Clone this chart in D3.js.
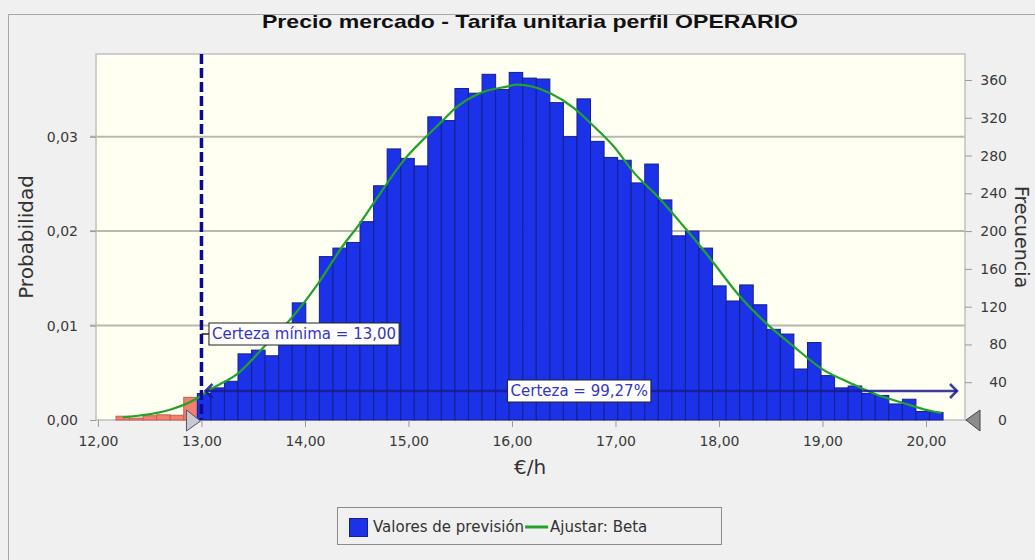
<!DOCTYPE html>
<html>
<head>
<meta charset="utf-8">
<script src="https://cdn.jsdelivr.net/npm/d3@7"></script>
<style>
  body { margin: 0; background: #f0f0f0; }
  svg { display: block; font-family: "DejaVu Sans", sans-serif; }
</style>
</head>
<body>
<div class="chart"></div>
<script>
// histogram: 61 bins of the forecast (10 000 trials)
const binStart = 12.174
const binWidth = 0.131
const frequencies = [
  4, 2, 4.5, 5.5, 5, 24, 28, 34, 41, 70, 74, 68, 88, 124, 98, 173, 182, 188, 210, 248,
  287, 277, 269, 321, 317, 351, 346, 366, 350, 368, 362, 361, 336, 300, 340, 295, 278, 275, 251, 271,
  233, 195, 200, 182, 142, 126, 143, 122, 96, 91, 54, 82, 47, 34, 36, 28, 26, 17, 22, 9, 8
]
const trials = 10000

// fitted beta curve (value, frequency)
const fitX = [12.24, 12.71, 12.96, 13.08, 13.36, 13.61, 13.87, 14.13, 14.37, 14.53, 14.66, 14.97, 15.18, 15.34,
  15.43, 15.69, 15.95, 16.05, 16.37, 16.59, 16.79, 16.98, 17.17, 17.43, 17.62, 17.82, 17.95, 18.17, 18.46,
  18.72, 19.01, 19.27, 19.52, 19.78, 20.07, 20.15]
const fitY = [2.8, 11.3, 23, 32, 50, 78, 108, 145, 185, 208, 229, 277, 301, 318,
  328, 346, 353, 355, 346, 331, 311, 290, 263, 234, 210, 184, 166, 135, 102,
  78, 53, 39, 27, 18, 9, 7.5]

const xTicks = [12, 13, 14, 15, 16, 17, 18, 19, 20]
const probTicks = [0, 0.01, 0.02, 0.03]
const freqTicks = [0, 40, 80, 120, 160, 200, 240, 280, 320, 360]
const certaintyMin = 13.0
const certaintyText = 'Certeza = 99,27%'
const certaintyMinText = 'Certeza mínima = 13,00'

const width = 1035
const height = 560
const plot = { left: 96, right: 965, top: 54, bottom: 420 }

const locale = d3.formatLocale({ decimal: ',', thousands: '.', grouping: [3], currency: ['', '€'] })
const fmt2 = locale.format('.2f')

const x = d3.scaleLinear().domain([11.981, 20.377]).range([plot.left, plot.right])
const yF = d3.scaleLinear().domain([0, 387.5]).range([plot.bottom, plot.top])
const yP = d3.scaleLinear().domain([0, 387.5 / trials]).range([plot.bottom, plot.top])

const svg = d3.select('.chart').append('svg')
  .attr('width', width).attr('height', height)

// outer frame
svg.append('rect')
  .attr('x', 8.5).attr('y', 14.5).attr('width', width).attr('height', height)
  .attr('fill', '#f0f0f0').attr('stroke', '#a8a8a8')

svg.append('text')
  .attr('x', 530).attr('y', 28)
  .attr('text-anchor', 'middle')
  .style('font-family', '"Liberation Sans", Arial, sans-serif')
  .style('font-weight', 'bold').style('font-size', '19px')
  .attr('textLength', 536).attr('lengthAdjust', 'spacingAndGlyphs')
  .attr('fill', '#111')
  .text('Precio mercado - Tarifa unitaria perfil OPERARIO')

svg.append('rect')
  .attr('x', plot.left).attr('y', plot.top)
  .attr('width', plot.right - plot.left).attr('height', plot.bottom - plot.top)
  .attr('fill', '#fffff2')

// gridlines
svg.append('g').selectAll('line')
  .data(probTicks.filter((d) => d > 0))
  .enter().append('line')
  .attr('x1', plot.left - 6).attr('x2', plot.right)
  .attr('y1', (d) => yP(d)).attr('y2', (d) => yP(d))
  .attr('stroke', '#b8b8b0').attr('stroke-width', 2)

svg.append('rect')
  .attr('x', plot.left).attr('y', plot.top)
  .attr('width', plot.right - plot.left).attr('height', plot.bottom - plot.top)
  .attr('fill', 'none').attr('stroke', '#c0c0c0').attr('stroke-width', 1.5)

// bars
const isTail = (i) => binStart + (i + 1) * binWidth <= certaintyMin
svg.append('g').selectAll('rect')
  .data(frequencies)
  .enter().append('rect')
  .attr('x', (d, i) => x(binStart + i * binWidth))
  .attr('width', (d, i) => x(binStart + (i + 1) * binWidth) - x(binStart + i * binWidth))
  .attr('y', (d) => yF(d))
  .attr('height', (d) => yF(0) - yF(d))
  .attr('fill', (d, i) => (isTail(i) ? '#f47f6e' : '#1b32e8'))
  .attr('stroke', (d, i) => (isTail(i) ? '#c0604f' : '#14208c'))
  .attr('stroke-width', 1)

// fitted curve
svg.append('path')
  .datum(fitX.map((v, i) => [v, fitY[i]]))
  .attr('fill', 'none').attr('stroke', '#22a22a').attr('stroke-width', 2.2)
  .attr('d', d3.line().x((d) => x(d[0])).y((d) => yF(d[1])).curve(d3.curveMonotoneX))

// axes
const axisStyle = (g) => {
  g.select('.domain').remove()
  g.selectAll('.tick line').attr('stroke', '#9a9a9a')
  g.selectAll('.tick text').attr('fill', '#3a3a3a')
    .style('font-family', '"DejaVu Sans", sans-serif').style('font-size', '14px')
}

svg.append('g')
  .attr('transform', `translate(0,${plot.bottom})`)
  .call(d3.axisBottom(x).tickValues(xTicks).tickFormat(fmt2).tickSize(7).tickPadding(9))
  .call(axisStyle)

svg.append('g')
  .attr('transform', `translate(${plot.left},0)`)
  .call(d3.axisLeft(yP).tickValues(probTicks).tickFormat(fmt2).tickSize(6).tickPadding(12))
  .call(axisStyle)

svg.append('g')
  .attr('transform', `translate(${plot.right},0)`)
  .call(d3.axisRight(yF).tickValues(freqTicks).tickSize(7))
  .call(axisStyle)
  .selectAll('.tick text').attr('text-anchor', 'end').attr('x', 42)

// axis titles
svg.append('text')
  .attr('transform', `translate(27,${(plot.top + plot.bottom) / 2}) rotate(-90)`)
  .attr('text-anchor', 'middle').attr('dominant-baseline', 'middle')
  .attr('fill', '#333').style('font-size', '20px')
  .text('Probabilidad')

svg.append('text')
  .attr('transform', `translate(1020,${(plot.top + plot.bottom) / 2}) rotate(90)`)
  .attr('text-anchor', 'middle').attr('dominant-baseline', 'middle')
  .attr('fill', '#333').style('font-size', '19px')
  .text('Frecuencia')

svg.append('text')
  .attr('x', 530).attr('y', 474)
  .attr('text-anchor', 'middle')
  .attr('fill', '#333').style('font-size', '20px')
  .text('€/h')

// certainty markers
const xMin = x(certaintyMin)
svg.append('line')
  .attr('x1', xMin).attr('x2', xMin)
  .attr('y1', plot.top).attr('y2', plot.bottom)
  .attr('stroke', '#0a0a96').attr('stroke-width', 3.5)
  .attr('stroke-dasharray', '10,4')

const arrowY = plot.bottom - 29
const arrowEnd = plot.right - 8
const arrows = svg.append('g')
  .attr('stroke', '#1a1a90').attr('stroke-opacity', 0.85)
  .attr('stroke-width', 2.5).attr('fill', 'none')
arrows.append('line')
  .attr('x1', xMin + 4).attr('x2', arrowEnd)
  .attr('y1', arrowY).attr('y2', arrowY)
arrows.append('path')
  .attr('d', `M${arrowEnd - 7},${arrowY - 7}L${arrowEnd},${arrowY}L${arrowEnd - 7},${arrowY + 7}`)
arrows.append('path')
  .attr('d', `M${xMin + 11},${arrowY - 7}L${xMin + 4},${arrowY}L${xMin + 11},${arrowY + 7}`)

function label(cx, cy, text, anchorLeft) {
  const g = svg.append('g')
  const t = g.append('text')
    .attr('y', cy).attr('dominant-baseline', 'central')
    .attr('fill', '#3434c4').style('font-size', '15px')
    .text(text)
  const w = t.node().getComputedTextLength() + 6
  const left = anchorLeft ? cx : cx - w / 2
  t.attr('x', left + 3)
  g.insert('rect', 'text')
    .attr('x', left).attr('y', cy - 11)
    .attr('width', w).attr('height', 22)
    .attr('fill', '#fff').attr('stroke', '#222').attr('stroke-width', 1)
}

svg.append('line')
  .attr('x1', xMin).attr('x2', xMin + 8)
  .attr('y1', 334).attr('y2', 334)
  .attr('stroke', '#222').attr('stroke-width', 1.5)
label(xMin + 7.5, 334, certaintyMinText, true)
label((xMin + arrowEnd) / 2, arrowY, certaintyText, false)

// grabbers
svg.append('path')
  .attr('d', `M${xMin - 15},${plot.bottom - 10}L${xMin - 15},${plot.bottom + 11}L${xMin - 1},${plot.bottom + 1}Z`)
  .attr('fill', '#c8c8d6').attr('stroke', '#555')
svg.append('path')
  .attr('d', `M${plot.right + 15},${plot.bottom - 10}L${plot.right + 15},${plot.bottom + 11}L${plot.right + 1},${plot.bottom}Z`)
  .attr('fill', '#8c8c8c').attr('stroke', '#444')

// legend
const legend = svg.append('g')
legend.append('rect')
  .attr('x', 337.5).attr('y', 507.5).attr('width', 384).attr('height', 37)
  .attr('fill', '#f0f0f0').attr('stroke', '#8c8c8c')
legend.append('rect')
  .attr('x', 349.5).attr('y', 518.5).attr('width', 18).attr('height', 18)
  .attr('fill', '#1b32e8').attr('stroke', '#14208c')
const t1 = legend.append('text')
  .attr('x', 373).attr('y', 527).attr('dominant-baseline', 'central')
  .attr('fill', '#333').style('font-size', '15px')
  .text('Valores de previsión')
const t1End = 373 + t1.node().getComputedTextLength()
legend.append('line')
  .attr('x1', t1End + 1).attr('x2', t1End + 24).attr('y1', 527).attr('y2', 527)
  .attr('stroke', '#22a22a').attr('stroke-width', 3)
legend.append('text')
  .attr('x', t1End + 26).attr('y', 527).attr('dominant-baseline', 'central')
  .attr('fill', '#333').style('font-size', '15px')
  .text('Ajustar: Beta')
</script>
</body>
</html>
